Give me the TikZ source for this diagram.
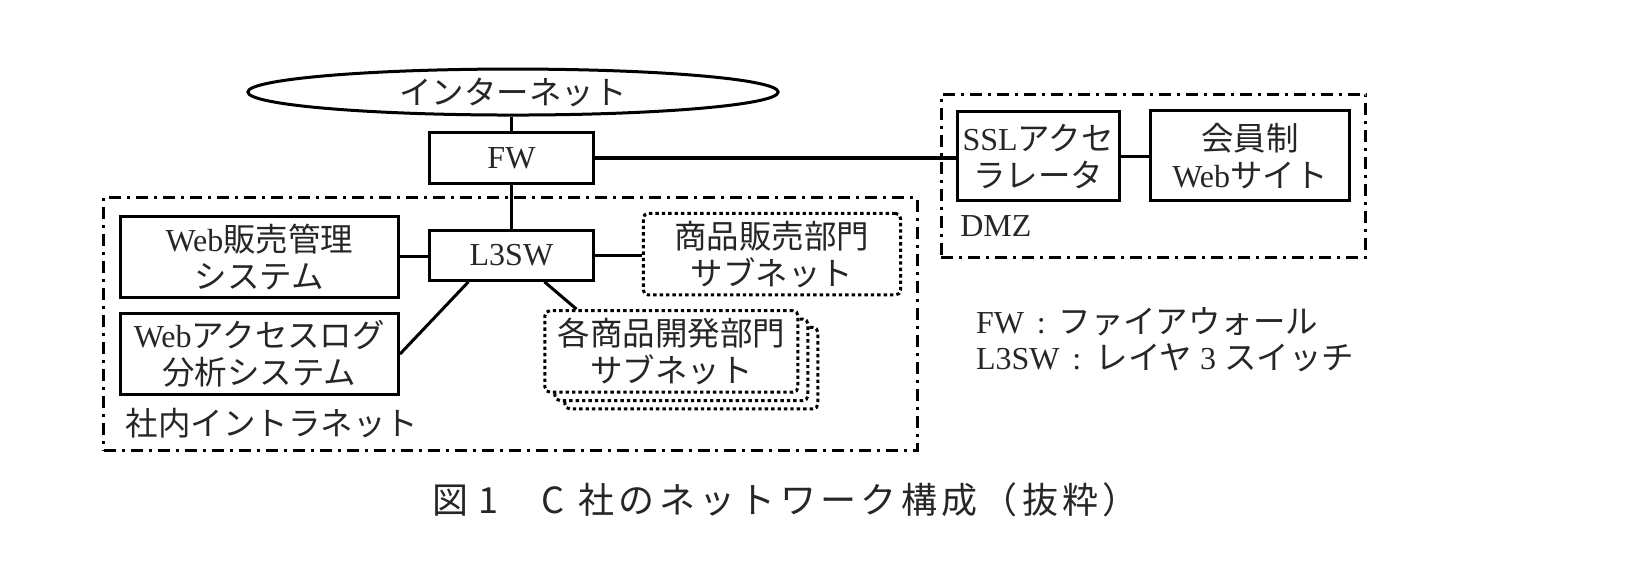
\documentclass[tikz,border=0pt]{standalone}
\usepackage{fontspec}
\setmainfont{Liberation Serif}
\newfontfamily\jp[Scale=1.015]{Noto Sans CJK JP}
\newfontfamily\jpcap[LetterSpace=12]{Noto Sans CJK JP}
\newcommand{\J}[1]{{\jp #1}}
\usetikzlibrary{shapes.geometric}
\tikzset{
  boxa/.style={draw,line width=3pt,minimum width=#1,align=center,inner sep=0pt},
  txt/.style={font=\fontsize{32}{37}\selectfont,text=black!85,align=center,inner sep=0pt},
  dotbox/.style={draw,line width=3pt,dash pattern=on 3.4pt off 3pt,fill=white,rounded corners=5pt,inner sep=0pt,align=center},
  zone/.style={draw,line width=3pt,dash pattern=on 12pt off 6pt on 3pt off 6pt},
  link/.style={line width=3pt},
  lbl/.style={font=\fontsize{32}{36}\selectfont,text=black!85,inner sep=0pt,anchor=west}
}
\begin{document}
\begin{tikzpicture}[x=1.046pt,y=-1.046pt]
\useasboundingbox (0,0) rectangle (1568,543);
% zones
\node[zone,minimum width=813.8pt,minimum height=253.1pt,inner sep=0pt] (intra) at (488,310) {};
\node[zone,minimum width=424.7pt,minimum height=163.2pt,inner sep=0pt] (dmz) at (1103,168) {};
% internet and FW
\node[draw,ellipse,line width=3pt,minimum width=530.3pt,minimum height=46pt,inner sep=0pt,fill=white,txt] (inet) at (490.5,88) {\J{インターネット}};
\node[boxa=163.2pt,minimum height=50.2pt,txt] (fw) at (489,151) {FW};
\node[boxa=163.2pt,minimum height=50.2pt,txt] (l3) at (489,244) {L3SW};
% servers
\node[boxa=278.2pt,minimum height=80.5pt,txt] (hanbai) at (248,245.5) {Web\J{販売管理}\\\J{システム}};
\node[boxa=278.2pt,minimum height=80.5pt,txt] (log) at (248,338.5) {Web\J{アクセスログ}\\\J{分析システム}};
% subnets
\node[dotbox,minimum width=257.3pt,minimum height=81.6pt,txt] (sales) at (738,243) {\J{商品販売部門}\\\J{サブネット}};
\node[dotbox,minimum width=253pt,minimum height=81.6pt] (dev3) at (661,352) {};
\node[dotbox,minimum width=253pt,minimum height=81.6pt] (dev2) at (651.5,344) {};
\node[dotbox,minimum width=253pt,minimum height=81.6pt,txt] (dev) at (642,336) {\J{各商品開発部門}\\\J{サブネット}};
% DMZ
\node[boxa=162.1pt,minimum height=88.9pt,txt] (ssl) at (992.5,149.5) {SSL\J{アクセ}\\\J{ラレータ}};
\node[boxa=198.7pt,minimum height=89.9pt,txt] (member) at (1195,149) {\J{会員制}\\Web\J{サイト}};
% connectors
\draw[link] (inet.south -| fw.north) -- (fw.north);
\draw[link] (fw.south) -- (l3.north);
\draw[link,line width=3.4pt] (fw.east) -- (fw.east -| ssl.west);
\draw[link] (ssl.east) -- (ssl.east -| member.west);
\draw[link] (hanbai.east) -- (hanbai.east -| l3.west);
\draw[link] (l3.east) -- (l3.east -| sales.west);
\draw[link] ([xshift=-43pt]l3.south) -- (log.east);
\draw[link] ([xshift=33pt]l3.south) -- ([xshift=-95pt]dev.north);
% labels
\node[lbl] (intralbl) at (120,405) {\J{社内イントラネット}};
\node[lbl] (dmzlbl) at (918,216) {DMZ};
\node[lbl] (leg1) at (933,308) {FW\hspace{.4em}:\hspace{.4em}\J{ファイアウォール}};
\node[lbl] (leg2) at (933,342) {L3SW\hspace{.4em}:\hspace{.45em}\J{レイヤ} 3 \J{スイッチ}};
\node[lbl,font=\fontsize{36}{38}\selectfont] (cap) at (413,478) {\jpcap 図\hspace{10.5pt}1\hspace{43pt}C\hspace{14pt}社のネットワーク構成（抜粋）};
\end{tikzpicture}
\end{document}
